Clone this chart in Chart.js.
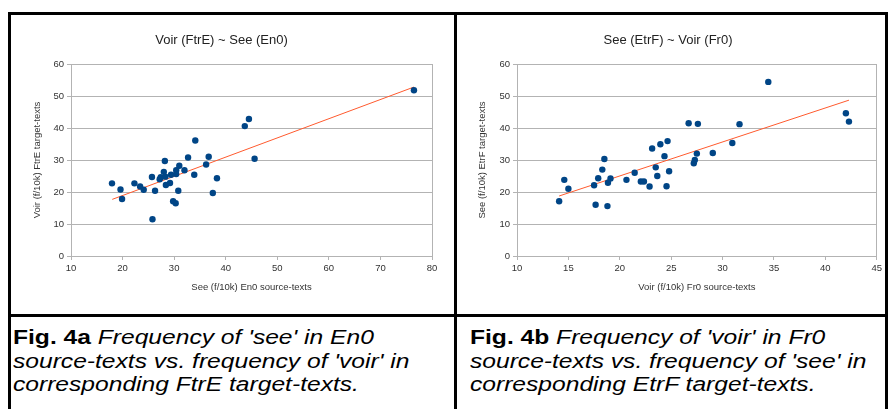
<!DOCTYPE html>
<html>
<head>
<meta charset="utf-8">
<script src="https://cdn.jsdelivr.net/npm/chart.js@4/dist/chart.umd.min.js"></script>
<style>
  body { margin: 0; background: #fff; font-family: "Liberation Sans", Arial, sans-serif; }
  .page { position: relative; width: 888px; height: 409px; overflow: hidden; }
  .frame { position: absolute; left: 8px; top: 12px; width: 874px; height: 420px; border: 3px solid #000; border-bottom: none; }
  .vline { position: absolute; left: 454px; top: 12px; width: 3px; height: 400px; background: #000; }
  .hline { position: absolute; left: 8px; top: 314px; width: 880px; height: 3px; background: #000; }
  canvas { position: absolute; top: 15px; }
  #chartA { left: 11px; }
  #chartB { left: 457px; }
  .cap { position: absolute; top: 325px; font-size: 20.5px; line-height: 23.5px; white-space: nowrap; color: #000; transform: scaleX(1.2); transform-origin: left top; }
</style>
</head>
<body>
<div class="page">
  <div class="frame"></div>
  <div class="vline"></div>
  <div class="hline"></div>
  <canvas id="chartA" width="443" height="299"></canvas>
  <canvas id="chartB" width="428" height="299"></canvas>
  <div class="cap" style="left:13px"><b>Fig. 4a</b> <i>Frequency of 'see' in En0<br>source-texts vs. frequency of 'voir' in<br>corresponding FtrE target-texts.</i></div>
  <div class="cap" style="left:470px"><b>Fig. 4b</b> <i>Frequency of 'voir' in Fr0<br>source-texts vs. frequency of 'see' in<br>corresponding EtrF target-texts.</i></div>
</div>
<script>
// see (En0) vs voir (FtrE), per 10k words
const enSee = [17.95, 19.6, 19.9, 22.3, 23.4, 24.1, 25.7, 25.8, 26.3, 27.2, 27.4, 28.0, 28.2, 28.3, 28.4, 29.2, 29.4, 29.8,
  30.3, 30.4, 30.4, 30.8, 31.0, 32.0, 32.7, 33.9, 34.1, 36.2, 36.7, 37.5, 38.3, 43.7, 44.5, 45.6, 76.5];
const ftrVoir = [22.7, 20.8, 17.8, 22.7, 21.7, 20.7, 24.7, 11.5, 20.4, 24.0, 24.6, 26.3, 29.7, 24.8, 22.2, 22.8, 25.4, 17.1,
  16.5, 26.8, 25.6, 20.4, 28.2, 26.8, 30.8, 25.4, 36.1, 28.6, 31.0, 19.7, 24.3, 40.6, 42.8, 30.4, 51.8];

// voir (Fr0) vs see (EtrF), per 10k words
const frVoir = [14.1, 14.6, 15.0, 17.5, 17.65, 17.9, 18.3, 18.5, 18.8, 18.85, 19.1, 20.65, 21.45, 22.05, 22.35, 22.9, 23.15, 23.5,
  23.65, 23.95, 24.35, 24.55, 24.65, 24.8, 26.7, 27.2, 27.3, 27.5, 27.6, 29.05, 30.95, 31.65, 34.45, 42.0, 42.3];
const etrSee = [17.1, 23.8, 21.0, 22.1, 16.0, 24.3, 27.0, 30.3, 15.6, 22.9, 24.2, 23.8, 26.0, 23.3, 23.3, 21.7, 33.6, 27.7,
  25.0, 34.9, 31.2, 21.8, 35.9, 26.5, 41.5, 29.0, 30.0, 32.0, 41.3, 32.2, 35.3, 41.2, 54.4, 44.6, 42.0];

// linear trend end points
const trendAX = [18.0, 76.5];
const trendAY = [17.7, 52.8];
const trendBX = [14.1, 42.3];
const trendBY = [18.75, 48.7];

// axis ticks
const xTicksA = [10, 20, 30, 40, 50, 60, 70, 80];
const xTicksB = [10, 15, 20, 25, 30, 35, 40, 45];
const yTicks = [0, 10, 20, 30, 40, 50, 60];

const GRID = '#b3b3b3';
const TEXT = '#333';
const FONT = 'Liberation Sans, Arial, sans-serif';

function pairs(xs, ys) {
  return xs.map((x, i) => ({ x: x, y: ys[i] }));
}

function scatterChart(id, cfg) {
  const ctx = document.getElementById(id).getContext('2d');
  return new Chart(ctx, {
    type: 'scatter',
    data: {
      datasets: [{
        label: 'texts',
        data: pairs(cfg.x, cfg.y),
        backgroundColor: '#004586',
        borderWidth: 0,
        pointRadius: 3.2
      }, {
        label: 'trend',
        data: pairs(cfg.trendX, cfg.trendY),
        showLine: true,
        borderColor: '#ff5a2e',
        borderWidth: 1,
        pointRadius: 0
      }]
    },
    options: {
      responsive: false,
      animation: false,
      layout: { padding: { left: 0, right: cfg.padRight, top: 0, bottom: 0 } },
      plugins: {
        legend: { display: false },
        tooltip: { enabled: false },
        title: {
          display: true,
          text: cfg.title,
          color: '#222',
          font: { family: FONT, size: 13, weight: 'normal' },
          padding: { top: 18, bottom: 15.4 }
        }
      },
      scales: {
        x: {
          type: 'linear',
          min: cfg.xTicks[0],
          max: cfg.xTicks[cfg.xTicks.length - 1],
          afterBuildTicks: s => { s.ticks = cfg.xTicks.map(v => ({ value: v })); },
          afterFit: s => { s.height = 58; },
          grid: {
            color: c => c.index === cfg.xTicks.length - 1 ? GRID : 'transparent',
            tickColor: GRID,
            tickLength: 4
          },
          border: { color: GRID },
          ticks: { color: TEXT, padding: 3, maxRotation: 0, font: { family: FONT, size: 9.5 } },
          title: {
            display: true,
            text: cfg.xTitle,
            color: TEXT,
            font: { family: FONT, size: 9.5 },
            padding: { top: 0, bottom: 21.3 }
          }
        },
        y: {
          min: 0,
          max: 60,
          afterBuildTicks: s => { s.ticks = yTicks.map(v => ({ value: v })); },
          afterFit: s => { s.width = cfg.yWidth; },
          grid: { color: GRID, tickColor: GRID, tickLength: 4 },
          border: { color: GRID },
          ticks: { color: TEXT, padding: 3, font: { family: FONT, size: 9.5 } },
          title: {
            display: true,
            text: cfg.yTitle,
            color: TEXT,
            font: { family: FONT, size: 9.5 },
            padding: { top: cfg.yTitlePad, bottom: 0 }
          }
        }
      }
    }
  });
}

scatterChart('chartA', {
  x: enSee, y: ftrVoir, trendX: trendAX, trendY: trendAY, xTicks: xTicksA,
  title: 'Voir (FtrE) ~ See (En0)',
  xTitle: 'See (f/10k) En0 source-texts',
  yTitle: 'Voir (f/10k) FtrE target-texts',
  yWidth: 60, yTitlePad: 21, padRight: 22
});

scatterChart('chartB', {
  x: frVoir, y: etrSee, trendX: trendBX, trendY: trendBY, xTicks: xTicksB,
  title: 'See (EtrF) ~ Voir (Fr0)',
  xTitle: 'Voir (f/10k) Fr0 source-texts',
  yTitle: 'See (f/10k) EtrF target-texts',
  yWidth: 60, yTitlePad: 19.7, padRight: 6
});
</script>
</body>
</html>
